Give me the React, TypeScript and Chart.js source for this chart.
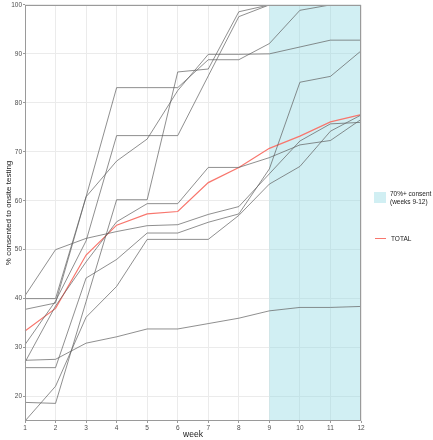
import React, { useEffect, useRef } from 'react';
import { Chart, registerables } from 'chart.js';

Chart.register(...registerables);

// ---- data ----
const weeks = ['1', '2', '3', '4', '5', '6', '7', '8', '9', '10', '11', '12'];
const yTickValues = [20, 30, 40, 50, 60, 70, 80, 90, 100];
const shadeFromWeek = '9';
const shadeToWeek = '12';

const siteA = [40.6, 50.0, 52.3, 53.7, 54.9, 55.1, 57.2, 58.8, 65.5, 72.2, 75.7, 76.0];
const siteB = [27.4, 27.6, 30.9, 32.2, 33.8, 33.8, 34.9, 36.0, 37.5, 38.2, 38.2, 38.4];
const siteC = [40.0, 40.0, 60.8, 83.1, 83.1, 83.1, 88.8, 88.8, 92.1, 98.9, 100, 100];
const siteD = [37.8, 39.1, 60.8, 68.1, 72.6, 82.5, 89.9, 89.9, 90.0, 91.4, 92.8, 92.8];
const siteE = [30.6, 39.5, 51.8, 73.3, 73.3, 73.3, 85.5, 97.6, 100, 100, 100, 100];
const siteF = [27.0, 38.5, 47.5, 55.7, 59.4, 59.4, 66.8, 66.8, 68.8, 71.4, 72.3, 76.6];
const siteG = [25.9, 25.9, 44.2, 48.0, 53.4, 53.4, 55.6, 57.3, 66.5, 84.2, 85.4, 90.6];
const siteH = [18.8, 18.6, 39.4, 60.2, 60.2, 86.3, 86.9, 98.6, 100, 100, 100, 100];
const siteI = [15.0, 22.1, 36.2, 42.5, 52.1, 52.1, 52.1, 57.0, 63.4, 67.0, 74.2, 77.5];
const total = [33.4, 38.0, 48.9, 55.0, 57.3, 57.8, 63.7, 66.8, 70.7, 73.2, 76.1, 77.6];

const siteSeries = [siteA, siteB, siteC, siteD, siteE, siteF, siteG, siteH, siteI];

const FONT = '"Liberation Sans", Arial, sans-serif';
const SHADE = 'rgba(140, 215, 225, 0.4)';
const GRAY_LINE = 'rgba(95, 95, 95, 0.7)';
const RED = '#f8766d';

const shadePlugin = {
  id: 'shadeRegion',
  beforeDatasetsDraw(chart: any) {
    const { ctx, chartArea, scales } = chart;
    const x0 = scales.x.getPixelForValue(weeks.indexOf(shadeFromWeek));
    const x1 = scales.x.getPixelForValue(weeks.indexOf(shadeToWeek));
    ctx.save();
    ctx.fillStyle = SHADE;
    ctx.fillRect(x0, chartArea.top, x1 - x0, chartArea.bottom - chartArea.top);
    ctx.restore();
  },
  afterDatasetsDraw(chart: any) {
    const { ctx, chartArea } = chart;
    ctx.save();
    ctx.strokeStyle = '#9a9a9a';
    ctx.lineWidth = 1;
    ctx.strokeRect(
      Math.round(chartArea.left) + 0.5,
      Math.round(chartArea.top) + 0.5,
      Math.round(chartArea.right - chartArea.left) - 1,
      Math.round(chartArea.bottom - chartArea.top) - 1
    );
    ctx.restore();
  },
};

export default function App() {
  const canvasRef = useRef<HTMLCanvasElement | null>(null);

  useEffect(() => {
    if (!canvasRef.current) return;
    const datasets: any[] = siteSeries.map((s, i) => ({
      label: 'site ' + (i + 1),
      data: s,
      borderColor: GRAY_LINE,
      borderWidth: 1,
      pointRadius: 0,
      tension: 0,
      fill: false,
    }));
    datasets.push({
      label: 'TOTAL',
      data: total,
      borderColor: RED,
      borderWidth: 1.2,
      pointRadius: 0,
      tension: 0,
      fill: false,
    });

    const chart = new Chart(canvasRef.current, {
      type: 'line',
      data: { labels: weeks, datasets },
      options: {
        animation: false,
        responsive: false,
        maintainAspectRatio: false,
        layout: { padding: { top: 3, right: 72, left: 0, bottom: 0 } },
        plugins: { legend: { display: false }, tooltip: { enabled: false } },
        scales: {
          x: {
            type: 'category',
            offset: false,
            border: { display: false },
            grid: { color: '#ebebeb', lineWidth: 1, tickLength: 2, tickColor: '#9a9a9a', drawTicks: true },
            ticks: { color: '#4d4d4d', font: { size: 6.5, family: FONT }, padding: 1, maxRotation: 0, autoSkip: false },
            title: { display: true, text: 'week', color: '#1a1a1a', font: { size: 8.5, family: FONT }, padding: { top: 0, bottom: 0 } },
            afterFit(scale: any) { scale.height = 19; },
          } as any,
          y: {
            min: 15,
            max: 100,
            border: { display: false },
            grid: { color: '#ebebeb', lineWidth: 1, tickLength: 2, tickColor: '#9a9a9a', drawTicks: true },
            ticks: { color: '#4d4d4d', font: { size: 6.5, family: FONT }, padding: 1 },
            afterBuildTicks(scale: any) { scale.ticks = yTickValues.map((v) => ({ value: v })); },
            title: { display: true, text: '% consented to onsite testing', color: '#1a1a1a', font: { size: 8, family: FONT }, padding: { top: 4, bottom: 0 } },
            afterFit(scale: any) { scale.width = 25; },
          } as any,
        },
      },
      plugins: [shadePlugin],
    });
    return () => chart.destroy();
  }, []);

  const legendText: React.CSSProperties = {
    position: 'absolute',
    fontFamily: FONT,
    fontSize: 6.5,
    color: '#1a1a1a',
    lineHeight: '8px',
    whiteSpace: 'nowrap',
  };

  return (
    <div style={{ position: 'absolute', left: 0, top: 0, width: 433, height: 440, background: '#fff' }}>
      <canvas ref={canvasRef} width={433} height={440} style={{ display: 'block' }} />
      <div style={{ position: 'absolute', left: 374, top: 192, width: 12, height: 11, background: 'rgb(209,239,243)' }} />
      <div style={{ ...legendText, left: 390, top: 190 }}>
        70%+ consent
        <br />
        (weeks 9-12)
      </div>
      <div style={{ position: 'absolute', left: 375, top: 238, width: 11, height: 1, background: RED }} />
      <div style={{ ...legendText, left: 391, top: 234.5 }}>TOTAL</div>
    </div>
  );
}
